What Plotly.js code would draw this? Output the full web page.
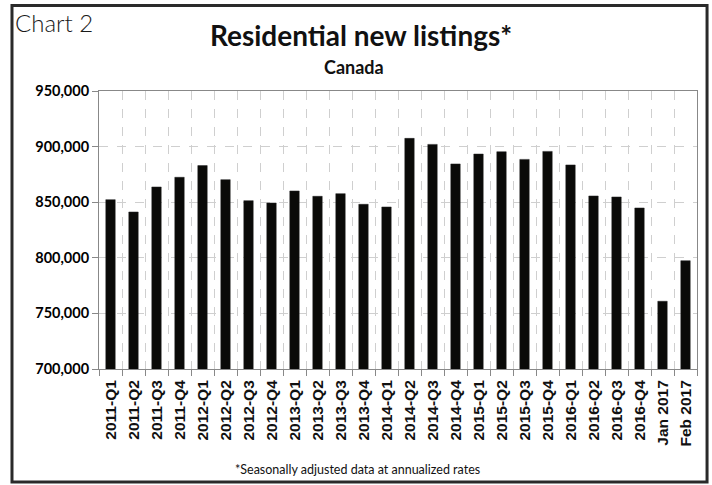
<!DOCTYPE html>
<html>
<head>
<meta charset="utf-8">
<script src="https://cdn.plot.ly/plotly-3.0.1.min.js"></script>
<style>
html,body{margin:0;padding:0;background:#fff;}
#chart{width:712px;height:485px;}
</style>
</head>
<body>
<div id="chart"></div>
<script>
const categories = ["2011-Q1","2011-Q2","2011-Q3","2011-Q4","2012-Q1","2012-Q2","2012-Q3","2012-Q4","2013-Q1","2013-Q2","2013-Q3","2013-Q4","2014-Q1","2014-Q2","2014-Q3","2014-Q4","2015-Q1","2015-Q2","2015-Q3","2015-Q4","2016-Q1","2016-Q2","2016-Q3","2016-Q4","Jan 2017","Feb 2017"];
const newListings = [852300,841200,863700,872400,882900,870300,851400,849300,860100,855300,857700,848100,845700,907400,902000,884400,893300,895400,888500,895700,883500,855600,854700,844800,760900,797400];
const yTickVals = [700000,750000,800000,850000,900000,950000];
const yTickText = ["700,000","750,000","800,000","850,000","900,000","950,000"];

const trace = {
  type: 'bar',
  x: categories,
  y: newListings,
  width: 0.41,
  marker: {color: '#0a0a08', line: {color: '#222', width: 0.5}},
  hoverinfo: 'x+y'
};

const layout = {
  width: 712, height: 485,
  margin: {l: 99, r: 15, t: 91, b: 116},
  paper_bgcolor: '#fff', plot_bgcolor: '#fff',
  showlegend: false,
  bargap: 0.59,
  title: {
    text: 'Residential new listings*',
    font: {family: 'Lato, "Open Sans", sans-serif', size: 28, color: '#111', weight: 'bold'},
    x: 0.507, xref: 'container', xanchor: 'center',
    y: 0.925, yref: 'container', yanchor: 'middle'
  },
  xaxis: {
    type: 'category',
    tickson: 'boundaries',
    ticks: 'outside', ticklen: 6, tickcolor: '#888', tickwidth: 1,
    tickangle: -90,
    ticklabelstandoff: 4,
    tickfont: {family: '"Liberation Sans", Arial, sans-serif', size: 15.5, color: '#111', weight: 'bold'},
    showgrid: true, gridcolor: '#cfcfcf', griddash: 'dash', gridwidth: 1,
    showline: true, linecolor: '#888', linewidth: 1, mirror: true,
    fixedrange: true
  },
  yaxis: {
    range: [700000, 950000],
    tickvals: yTickVals, ticktext: yTickText,
    ticks: 'outside', ticklen: 6, tickcolor: '#888', tickwidth: 1,
    tickfont: {family: 'Lato, "Open Sans", sans-serif', size: 14.5, color: '#000', weight: 'bold'},
    showgrid: true, gridcolor: '#cfcfcf', griddash: 'dash', gridwidth: 1,
    showline: true, linecolor: '#888', linewidth: 1, mirror: true,
    zeroline: false,
    fixedrange: true
  },
  annotations: [
    {text: 'Canada', xref: 'paper', yref: 'paper', x: 0.426, y: 1.085, xanchor: 'center', yanchor: 'middle', showarrow: false,
     font: {family: 'Lato, "Open Sans", sans-serif', size: 18, color: '#111', weight: 'bold'}},
    {text: 'Chart 2', xref: 'paper', yref: 'paper', x: -0.1438, y: 1.245, xanchor: 'left', yanchor: 'middle', showarrow: false,
     font: {family: 'Lato, "Noto Sans", sans-serif', size: 24, color: '#1a1a1a', weight: 300}},
    {text: '*Seasonally adjusted data at annualized rates', xref: 'paper', yref: 'paper', x: 0.433, y: -0.36, xanchor: 'center', yanchor: 'middle', showarrow: false,
     font: {family: 'Lato, "Open Sans", sans-serif', size: 12.5, color: '#111'}}
  ],
  shapes: [
    {type: 'rect', xref: 'paper', yref: 'paper', x0: -0.1455, x1: 1.0168, y0: -0.4065, y1: 1.3075,
     line: {color: '#2a2a2a', width: 3}, fillcolor: 'rgba(0,0,0,0)', layer: 'above'}
  ]
};

Plotly.newPlot('chart', [trace], layout, {displayModeBar: false, staticPlot: true});
</script>
</body>
</html>
